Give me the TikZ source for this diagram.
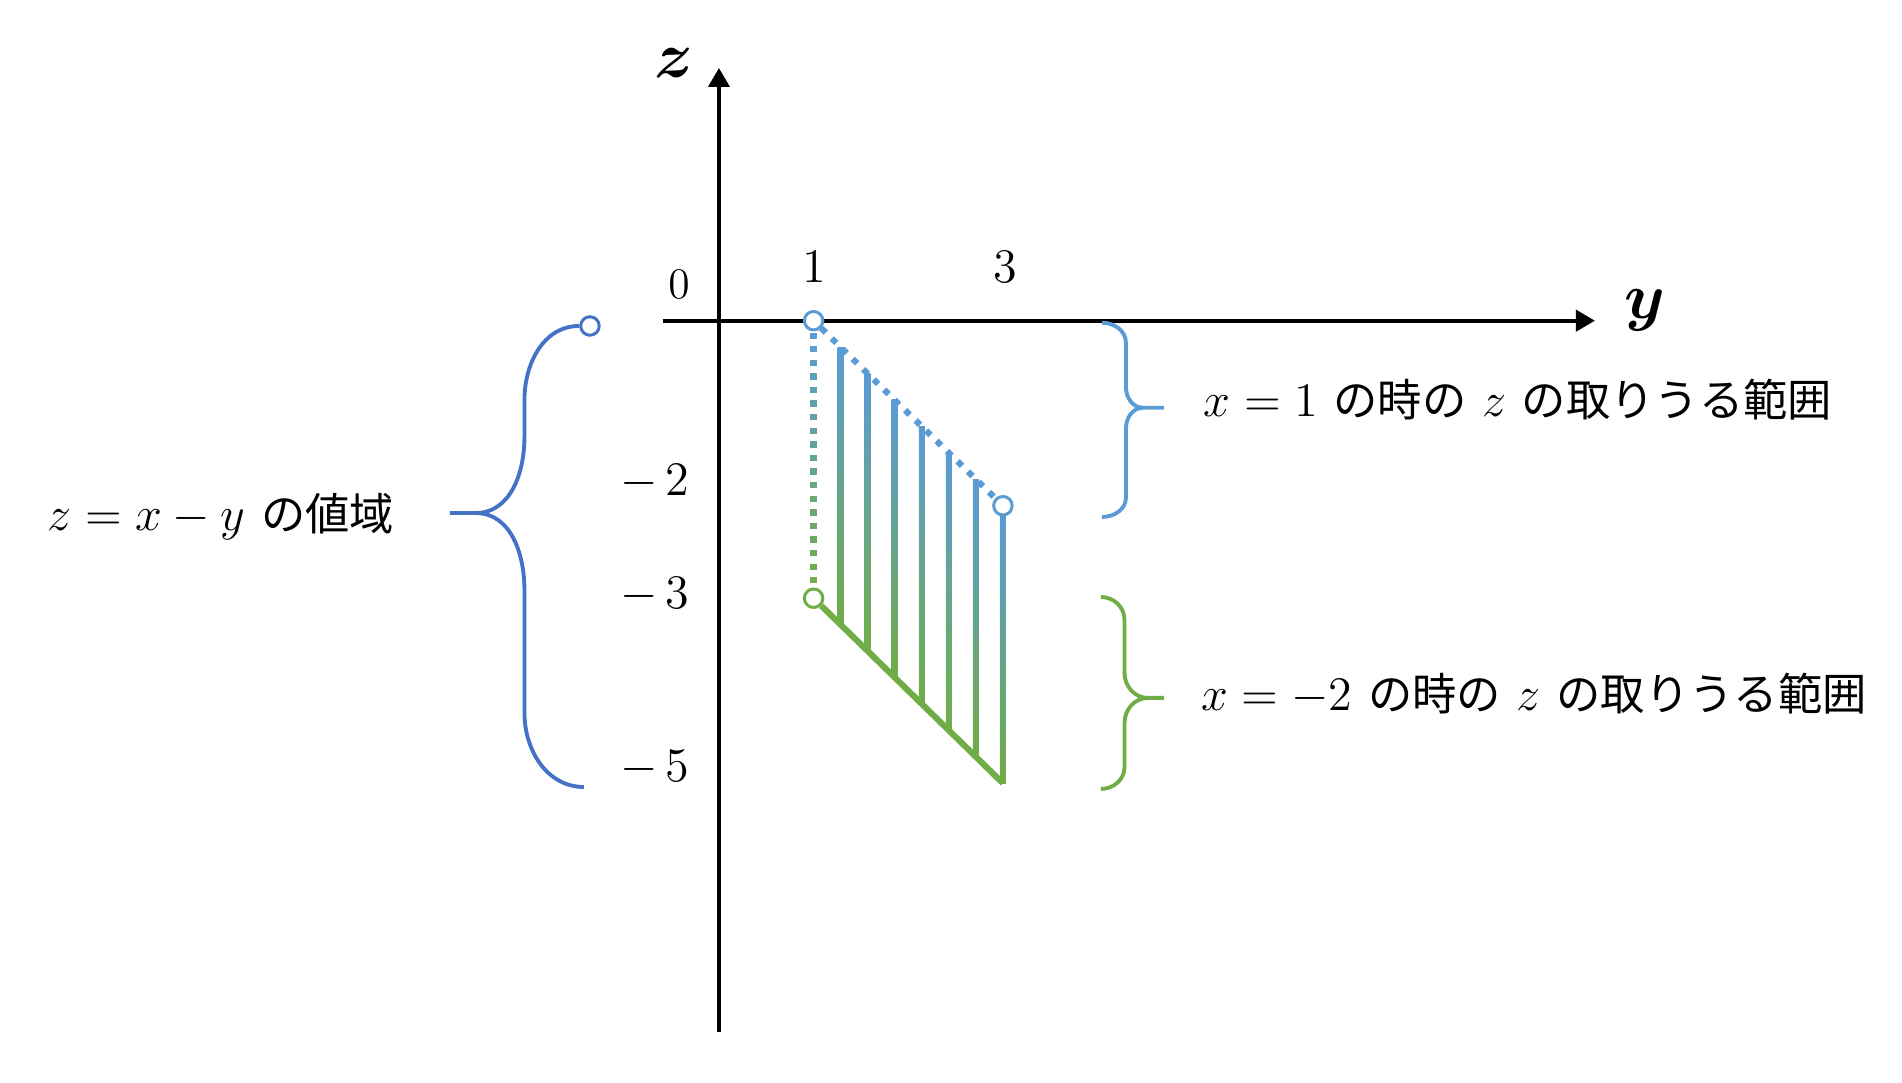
\RequirePackage{fix-cm}
\documentclass[tikz,border=0pt]{standalone}
\usepackage{amsmath, amssymb}
\usepackage{bm}
\usepackage{fontspec}
\newfontfamily\jp[Scale=0.92]{Noto Sans CJK JP}
\usepackage{xcolor}
\usepackage{tikz}
\usetikzlibrary{arrows.meta}
\definecolor{lblue}{HTML}{5B9BD5}
\definecolor{dblue}{HTML}{4472C4}
\definecolor{lgreen}{HTML}{70AD47}

\begin{document}
\begin{tikzpicture}[x=0.9465cm, y=0.925cm,
    axisline/.style={line width=1.15pt, -{Triangle[width=0.21cm,length=0.19cm]}},
    hole/.style={draw=#1, fill=white, circle, inner sep=0pt, minimum size=0.185cm, line width=0.85pt},
    brc/.style={line width=1.1pt},
    lab/.style={inner sep=0pt, font=\fontsize{13.7}{16}\selectfont},
    biglab/.style={inner sep=0pt, font=\fontsize{18.5}{22}\selectfont}]
      \useasboundingbox (-7.596,-8.231) rectangle (12.499,3.467);

      \coordinate (zb) at (0,-7.69);
      \coordinate (zt) at (0,2.732);
      \coordinate (ya) at (-0.592,0);
      \coordinate (yb) at (9.255,0);
      \draw[axisline] (zb) -- (zt);
      \draw[axisline] (ya) -- (yb);

      \node[biglab] at (-0.475,2.786) (Zl) {$\bm{z}$};
      \node[biglab] at (9.783,0.116) (Yl) {$\bm{y}$};
      \node[lab, font=\fontsize{12.4}{15}\selectfont] at (-0.423,0.397) (L0) {$0$};
      \node[lab] at (1.004,0.581) (L1) {$1$};
      \node[lab] at (3.022,0.581) (L3) {$3$};
      \node[lab, anchor=east] at (-0.306,-1.743) (M2) {$-\,2$};
      \node[lab, anchor=east] at (-0.306,-2.961) (M3) {$-\,3$};
      \node[lab, anchor=east] at (-0.306,-4.84) (M5) {$-\,5$};

      \node[hole=lblue] at (1,0) (A) {};
      \node[hole=lblue] at (3,-2) (B) {};
      \node[hole=lgreen] at (1,-3) (C) {};
      \coordinate (D) at (3,-5);

      \foreach \k [evaluate=\k as \X using 1+2*\k/7] in {1,...,6}
        \shade[top color=lblue, bottom color=lgreen] ({\X-0.032},{1-\X}) rectangle ({\X+0.032},{-2-\X});
      \shade[top color=lblue, bottom color=lgreen] ([xshift=-0.03cm]B.south) rectangle ([xshift=0.03cm]D);

      \foreach \k [evaluate=\k as \pct using int(100*\k/18)] in {0,...,18}
        \fill[lgreen!\pct!lblue] ({1-0.033},{-0.1276-0.1469*\k}) rectangle ({1+0.033},{-0.1964-0.1469*\k});

      \draw[lblue, line width=1.75pt, dash pattern=on 1.8pt off 2.37pt] (A) -- (B);
      \draw[lgreen, line width=1.75pt] (C) -- (D);

      \draw[lblue, brc] (4.046,-0.022) to[out=0,in=90] (4.30,-0.241) -- (4.30,-0.717) to[out=270,in=180] (4.48,-0.941) to[out=180,in=90] (4.30,-1.165) -- (4.30,-1.911) to[out=270,in=0] (4.046,-2.122) (4.48,-0.941) -- (4.701,-0.941);
      \draw[lgreen, brc] (4.036,-2.987) to[out=0,in=90] (4.285,-3.236) -- (4.285,-3.808) to[out=270,in=180] (4.533,-4.078) to[out=180,in=90] (4.285,-4.349) -- (4.285,-4.824) to[out=270,in=0] (4.036,-5.062) (4.533,-4.078) -- (4.701,-4.078);

      \node[hole=dblue] at (-1.363,-0.057) (E) {};
      \draw[dblue, brc] (E.west) to[out=180,in=90] (-2.055,-0.857) -- (-2.055,-1.257) to[out=270,in=0] (-2.573,-2.079) to[out=0,in=90] (-2.055,-2.911) -- (-2.055,-4.241) to[out=270,in=180] (-1.426,-5.041) (-2.573,-2.079) -- (-2.842,-2.079);

      \node[lab, anchor=base east] at (-3.423,-2.263) (Q) {$z=x-y$ {\jp の値域}};
      \node[lab, anchor=base west] at (5.117,-1.038) (R1) {$x=1$ {\jp の時の} $z$ {\jp の取りうる範囲}};
      \node[lab, anchor=base west] at (5.088,-4.216) (R2) {$x=-2$ {\jp の時の} $z$ {\jp の取りうる範囲}};
    \end{tikzpicture}
\end{document}
